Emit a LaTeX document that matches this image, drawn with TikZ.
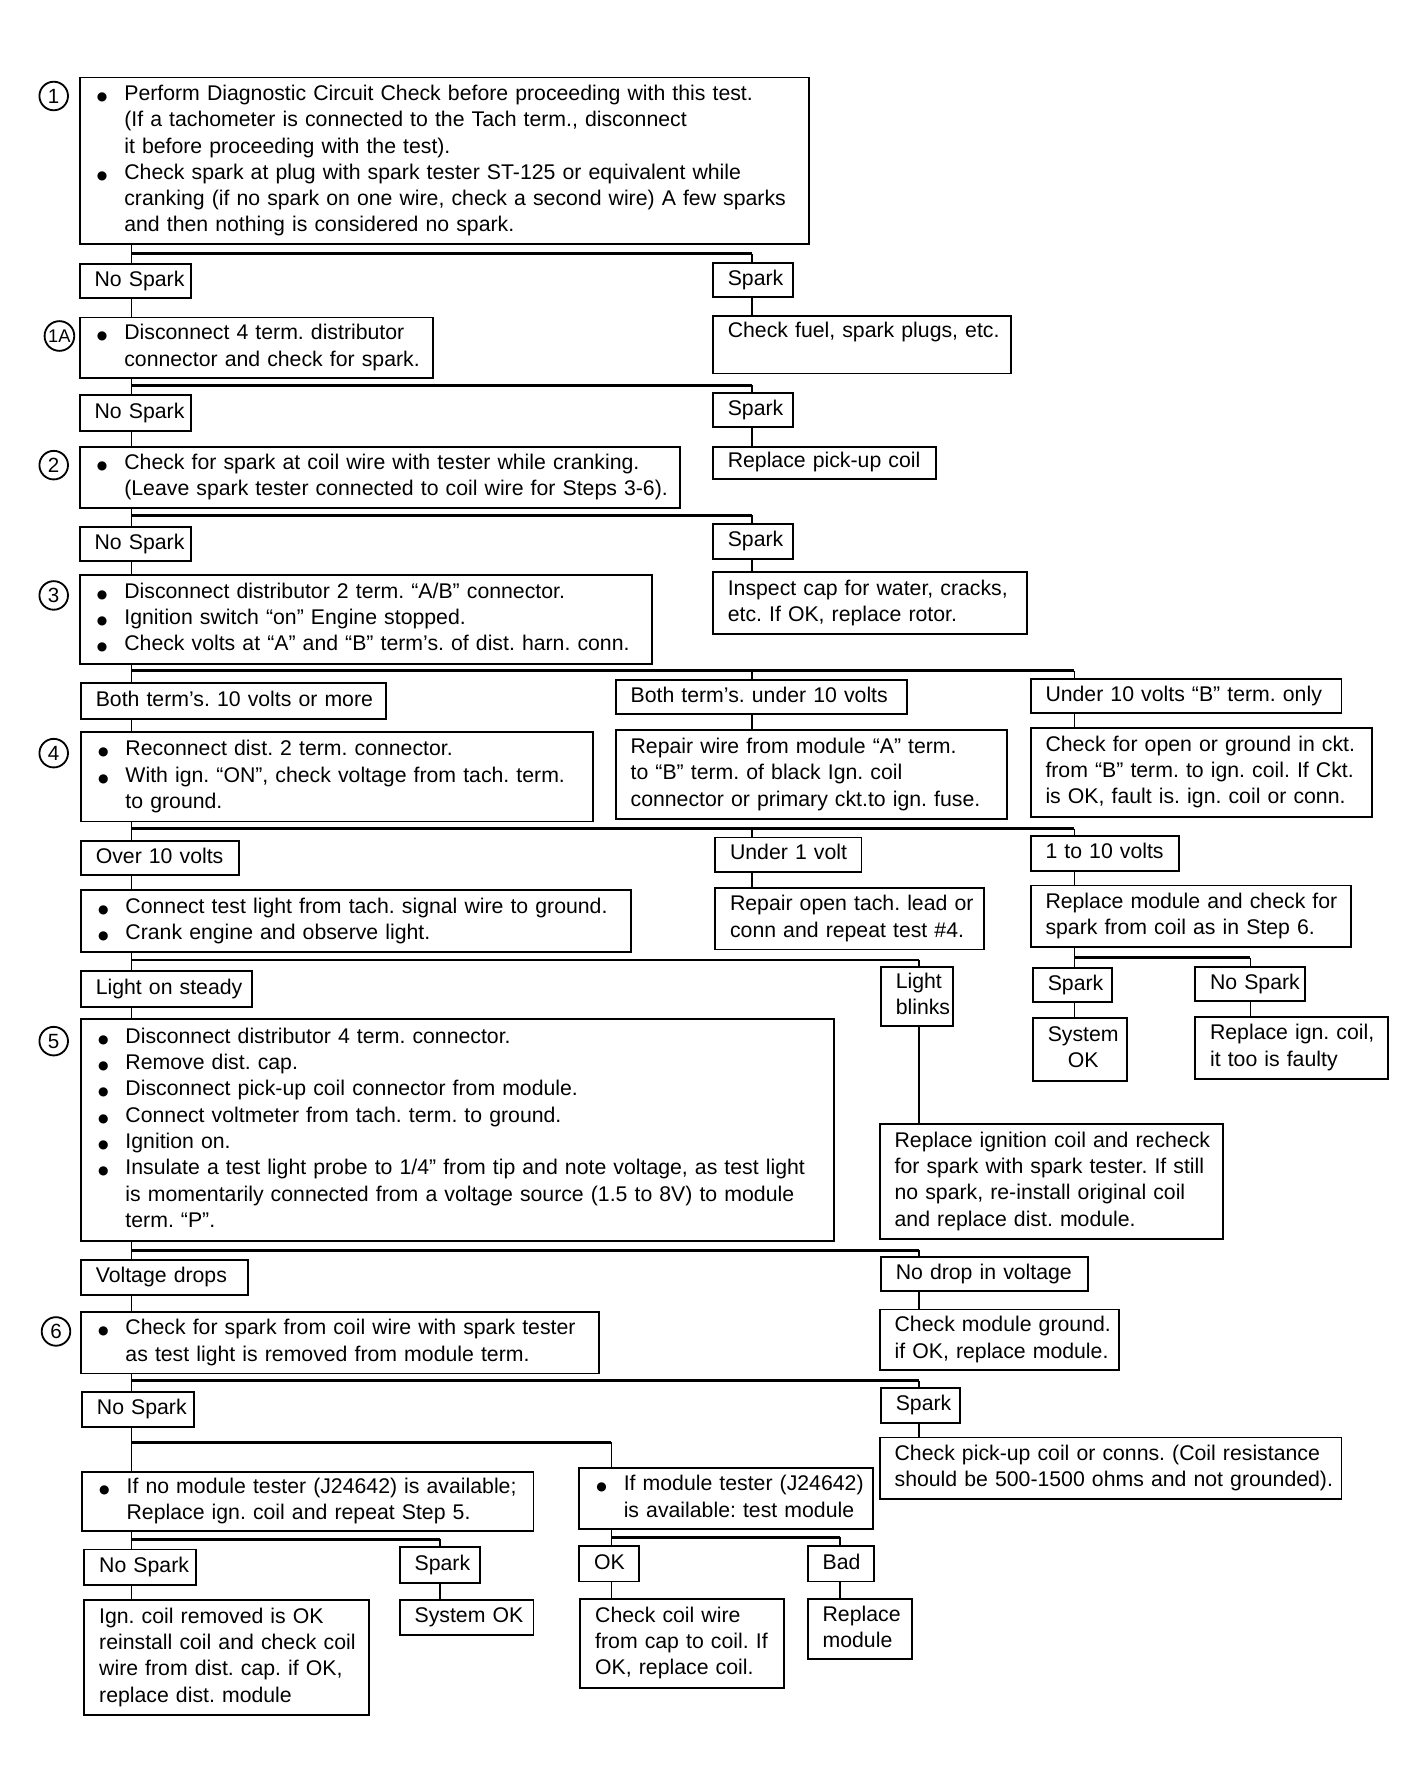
\documentclass[tikz,border=0pt]{standalone}
\usepackage{fontspec}
\setmainfont{Liberation Sans}
\newfontfamily\dvfont{DejaVu Sans}
\frenchspacing
\newcommand\fs{\fontsize{18.6}{23}\selectfont\frenchspacing}
\newcommand\bul{\makebox[26pt][l]{\hspace{2pt}{\dvfont\fontsize{10.5}{10.5}\selectfont ●}}}
\newcommand\nbul{\hspace*{26pt}}
\newcommand\bx[6]{%
 \pgfmathsetmacro\BXw{#4-#2}\pgfmathsetmacro\BXh{#5-#3}\pgfmathsetmacro\BXt{#4-#2-26}%
 \node[box, minimum width=\BXw pt, minimum height=\BXh pt, text width=\BXt pt] (#1) at (#2,#3) {\begin{tabular}{@{}l@{}}#6\end{tabular}};}
\newcommand\bxc[6]{%
 \pgfmathsetmacro\BXw{#4-#2}\pgfmathsetmacro\BXh{#5-#3}\pgfmathsetmacro\BXt{#4-#2-26}%
 \node[box, align=center, minimum width=\BXw pt, minimum height=\BXh pt, text width=\BXt pt] (#1) at (#2,#3) {\begin{tabular}{@{}c@{}}#6\end{tabular}};}
\tikzset{
 box/.style={draw, line width=1.6pt, anchor=north west, inner xsep=13pt, inner ysep=0pt, align=left, font=\fs},
 conn/.style={line width=1.3pt},
 bus/.style={line width=2.4pt},
 stepnum/.style={circle, draw, line width=1.6pt, minimum size=25pt, inner sep=0pt, fill=white, font=\fontsize{18}{18}\selectfont},
}
\begin{document}
\begin{tikzpicture}[x=1pt,y=-1pt]
\fill[white] (0,0) rectangle (1248,1568);
\useasboundingbox (0,0) rectangle (1248,1568);

% column and bus coordinates
\coordinate (xL) at (115,0);
\coordinate (xM) at (658,0);
\coordinate (xR) at (940,0);
\coordinate (xC) at (804,0);
\coordinate (xR2) at (1094,0);
\coordinate (xT) at (535,0);
\coordinate (xS) at (385,0);
\coordinate (xB) at (735,0);
\coordinate (h1) at (0,222);
\coordinate (h2) at (0,337);
\coordinate (h3) at (0,451);
\coordinate (h4) at (0,587);
\coordinate (h5) at (0,725);
\coordinate (h6) at (0,838);
\coordinate (h7) at (0,840);
\coordinate (h8) at (0,1094);
\coordinate (h9) at (0,1208);
\coordinate (h10) at (0,1262);
\coordinate (h11) at (0,1347);
\coordinate (h12) at (0,1345);

% boxes
\bx{b1}{69}{67}{707}{213}{\bul Perform Diagnostic Circuit Check before proceeding with this test.\\ \nbul (If a tachometer is connected to the Tach term., disconnect\\ \nbul it before proceeding with the test).\\ \bul Check spark at plug with spark tester ST-125 or equivalent while\\ \nbul cranking (if no spark on one wire, check a second wire) A few sparks\\ \nbul and then nothing is considered no spark.}
\bx{ns1}{69}{230}{166}{260}{No Spark}
\bx{sp1}{623}{229}{693}{259}{Spark}
\bx{b1a}{69}{277}{378}{330}{\bul Disconnect 4 term. distributor\\ \nbul connector and check for spark.}
\bx{fuel}{623}{276}{884}{326}{Check fuel, spark plugs, etc.\\ \mbox{}}
\bx{ns2}{69}{345}{166}{376}{No Spark}
\bx{sp2}{623}{343}{693}{373}{Spark}
\bx{pick}{623}{390}{818}{418}{Replace pick-up coil}
\bx{b2}{69}{390}{594}{444}{\bul Check for spark at coil wire with tester while cranking.\\ \nbul (Leave spark tester connected to coil wire for Steps 3-6).}
\bx{ns3}{69}{460}{166}{490}{No Spark}
\bx{sp3}{623}{458}{693}{488}{Spark}
\bx{b3}{69}{502}{570}{580}{\bul Disconnect distributor 2 term. “A/B” connector.\\ \bul Ignition switch “on” Engine stopped.\\ \bul Check volts at “A” and “B” term’s. of dist. harn. conn.}
\bx{cap}{623}{500}{898}{554}{Inspect cap for water, cracks,\\ etc. If OK, replace rotor.}
\bx{t10}{70}{597}{337}{628}{Both term’s. 10 volts or more}
\bx{tu10}{538}{594}{793}{624}{Both term’s. under 10 volts}
\bx{tb}{901}{593}{1173}{623}{Under 10 volts “B” term. only}
\bx{b4}{70}{640}{518}{718}{\bul Reconnect dist. 2 term. connector.\\ \bul With ign. “ON”, check voltage from tach. term.\\ \nbul to ground.}
\bx{rep}{538}{638}{880}{716}{Repair wire from module “A” term.\\ to “B” term. of black Ign. coil\\ connector or primary ckt.to ign. fuse.}
\bx{chk}{901}{636}{1200}{714}{Check for open or ground in ckt.\\ from “B” term. to ign. coil. If Ckt.\\ is OK, fault is. ign. coil or conn.}
\bx{o10}{70}{735}{208}{765}{Over 10 volts}
\bx{u1}{625}{732}{753}{762}{Under 1 volt}
\bx{v110}{901}{731}{1031}{761}{1 to 10 volts}
\bx{b4b}{70}{778}{551}{832}{\bul Connect test light from tach. signal wire to ground.\\ \bul Crank engine and observe light.}
\bx{tach}{625}{776}{860}{830}{Repair open tach. lead or\\ conn and repeat test \#4.}
\bx{repm}{901}{774}{1181}{828}{Replace module and check for\\ spark from coil as in Step 6.}
\bx{steady}{70}{849}{220}{880}{Light on steady}
\bx{blinks}{770}{845}{833}{897}{Light\\ blinks}
\bx{sp4}{903}{846}{972}{876}{Spark}
\bx{ns4}{1045}{845}{1141}{875}{No Spark}
\bxc{sysok1}{903}{890}{985}{945}{System\\ OK}
\bx{ric}{1045}{889}{1214}{943}{Replace ign. coil,\\ it too is faulty}
\bx{b5}{70}{891}{729}{1085}{\bul Disconnect distributor 4 term. connector.\\ \bul Remove dist. cap.\\ \bul Disconnect pick-up coil connector from module.\\ \bul Connect voltmeter from tach. term. to ground.\\ \bul Ignition on.\\ \bul Insulate a test light probe to 1/4” from tip and note voltage, as test light\\ \nbul is momentarily connected from a voltage source (1.5 to 8V) to module\\ \nbul term. “P”.}
\bx{ricr}{769}{983}{1069}{1083}{Replace ignition coil and recheck\\ for spark with spark tester. If still\\ no spark, re-install original coil\\ and replace dist. module.}
\bx{vd}{70}{1102}{216}{1132}{Voltage drops}
\bx{nd}{770}{1099}{951}{1129}{No drop in voltage}
\bx{b6}{70}{1147}{523}{1201}{\bul Check for spark from coil wire with spark tester\\ \nbul as test light is removed from module term.}
\bx{cmg}{769}{1145}{978}{1198}{Check module ground.\\ if OK, replace module.}
\bx{ns5}{71}{1217}{169}{1248}{No Spark}
\bx{sp5}{770}{1214}{839}{1244}{Spark}
\bx{cpc}{769}{1257}{1173}{1311}{Check pick-up coil or conns. (Coil resistance\\ should be 500-1500 ohms and not grounded).}
\bx{nmt}{71}{1287}{466}{1339}{\bul If no module tester (J24642) is available;\\ \nbul Replace ign. coil and repeat Step 5.}
\bx{mt}{506}{1284}{763}{1337}{\bul If module tester (J24642)\\ \nbul is available: test module}
\bx{ns6}{73}{1355}{171}{1386}{No Spark}
\bx{sp6}{349}{1353}{419}{1384}{Spark}
\bx{ok}{506}{1352}{558}{1383}{OK}
\bx{bad}{706}{1352}{764}{1383}{Bad}
\bx{icr}{73}{1399}{322}{1500}{Ign. coil removed is OK\\ reinstall coil and check coil\\ wire from dist. cap. if OK,\\ replace dist. module}
\bx{sysok2}{349}{1399}{466}{1430}{System OK}
\bx{ccw}{507}{1398}{685}{1476}{Check coil wire\\ from cap to coil. If\\ OK, replace coil.}
\bx{rmod}{706}{1398}{797}{1451}{Replace\\ module}

% step numbers
\node[stepnum] (c1) at (47,84) {1};
\node[stepnum, minimum size=26pt, font=\fontsize{16}{16}\selectfont] (c1a) at (52,294) {1A};
\node[stepnum] (c2) at (47,407) {2};
\node[stepnum] (c3) at (47,521) {3};
\node[stepnum] (c4) at (47,659) {4};
\node[stepnum] (c5) at (47,911) {5};
\node[stepnum] (c6) at (49,1165) {6};

% connectors
\draw[conn] (xL |- b1.south) -- (xL |- ns1.north);
\draw[bus] (xL |- h1) -- (xM |- h1);
\draw[conn] (xM |- h1) -- (xM |- sp1.north);
\draw[conn] (xL |- ns1.south) -- (xL |- b1a.north);
\draw[conn] (xM |- sp1.south) -- (xM |- fuel.north);

\draw[conn] (xL |- b1a.south) -- (xL |- ns2.north);
\draw[bus] (xL |- h2) -- (xM |- h2);
\draw[conn] (xM |- h2) -- (xM |- sp2.north);
\draw[conn] (xL |- ns2.south) -- (xL |- b2.north);
\draw[conn] (xM |- sp2.south) -- (xM |- pick.north);

\draw[conn] (xL |- b2.south) -- (xL |- ns3.north);
\draw[bus] (xL |- h3) -- (xM |- h3);
\draw[conn] (xM |- h3) -- (xM |- sp3.north);
\draw[conn] (xL |- ns3.south) -- (xL |- b3.north);
\draw[conn] (xM |- sp3.south) -- (xM |- cap.north);

\draw[conn] (xL |- b3.south) -- (xL |- t10.north);
\draw[bus] (xL |- h4) -- (xR |- h4);
\draw[conn] (xM |- h4) -- (xM |- tu10.north);
\draw[conn] (xR |- h4) -- (xR |- tb.north);
\draw[conn] (xL |- t10.south) -- (xL |- b4.north);
\draw[conn] (xM |- tu10.south) -- (xM |- rep.north);
\draw[conn] (xR |- tb.south) -- (xR |- chk.north);

\draw[conn] (xL |- b4.south) -- (xL |- o10.north);
\draw[bus] (xL |- h5) -- (xR |- h5);
\draw[conn] (xM |- h5) -- (xM |- u1.north);
\draw[conn] (xR |- h5) -- (xR |- v110.north);
\draw[conn] (xL |- o10.south) -- (xL |- b4b.north);
\draw[conn] (xM |- u1.south) -- (xM |- tach.north);
\draw[conn] (xR |- v110.south) -- (xR |- repm.north);

\draw[conn] (xR |- repm.south) -- (xR |- sp4.north);
\draw[bus] (xR |- h6) -- (xR2 |- h6);
\draw[conn] (xR2 |- h6) -- (xR2 |- ns4.north);
\draw[conn] (xR |- sp4.south) -- (xR |- sysok1.north);
\draw[conn] (xR2 |- ns4.south) -- (xR2 |- ric.north);

\draw[conn] (xL |- b4b.south) -- (xL |- steady.north);
\draw[bus] (xL |- h7) -- (xC |- h7);
\draw[conn] (xC |- h7) -- (xC |- blinks.north);
\draw[conn] (xL |- steady.south) -- (xL |- b5.north);
\draw[conn] (xC |- blinks.south) -- (xC |- ricr.north);

\draw[conn] (xL |- b5.south) -- (xL |- vd.north);
\draw[bus] (xL |- h8) -- (xC |- h8);
\draw[conn] (xC |- h8) -- (xC |- nd.north);
\draw[conn] (xL |- vd.south) -- (xL |- b6.north);
\draw[conn] (xC |- nd.south) -- (xC |- cmg.north);

\draw[conn] (xL |- b6.south) -- (xL |- ns5.north);
\draw[bus] (xL |- h9) -- (xC |- h9);
\draw[conn] (xC |- h9) -- (xC |- sp5.north);
\draw[conn] (xC |- sp5.south) -- (xC |- cpc.north);

\draw[conn] (xL |- ns5.south) -- (xL |- nmt.north);
\draw[bus] (xL |- h10) -- (xT |- h10);
\draw[conn] (xT |- h10) -- (xT |- mt.north);

\draw[conn] (xL |- nmt.south) -- (xL |- ns6.north);
\draw[bus] (xL |- h11) -- (xS |- h11);
\draw[conn] (xS |- h11) -- (xS |- sp6.north);
\draw[conn] (xL |- ns6.south) -- (xL |- icr.north);
\draw[conn] (xS |- sp6.south) -- (xS |- sysok2.north);

\draw[conn] (xT |- mt.south) -- (xT |- ok.north);
\draw[bus] (xT |- h12) -- (xB |- h12);
\draw[conn] (xB |- h12) -- (xB |- bad.north);
\draw[conn] (xT |- ok.south) -- (xT |- ccw.north);
\draw[conn] (xB |- bad.south) -- (xB |- rmod.north);
\end{tikzpicture}
\end{document}
